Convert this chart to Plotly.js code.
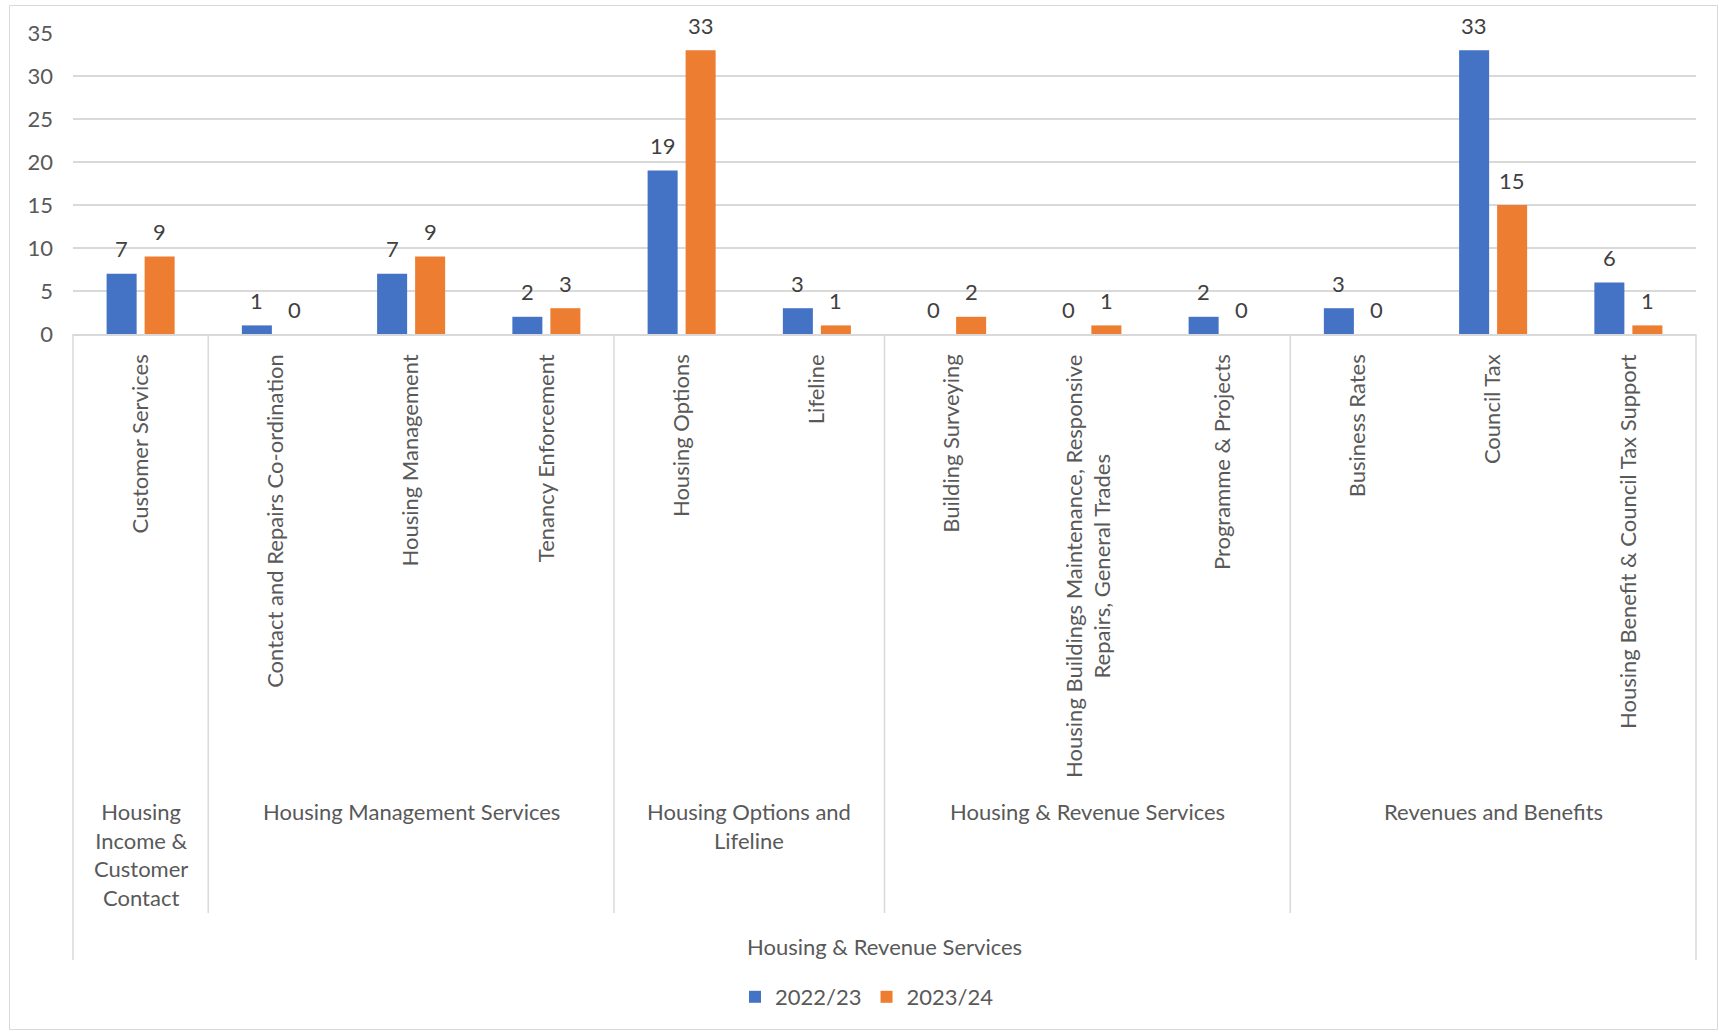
<!DOCTYPE html>
<html>
<head>
<meta charset="utf-8">
<script src="https://cdn.plot.ly/plotly-3.0.1.min.js"></script>
<style>html,body{margin:0;padding:0;background:#fff;}#chart{width:1719px;height:1033px;}</style>
</head>
<body>
<div id="chart"></div>
<script>
// ---- data ----
const categories = [
  "Customer Services",
  "Contact and Repairs Co-ordination",
  "Housing Management",
  "Tenancy Enforcement",
  "Housing Options",
  "Lifeline",
  "Building Surveying",
  "Housing Buildings Maintenance, Responsive Repairs, General Trades",
  "Programme & Projects",
  "Business Rates",
  "Council Tax",
  "Housing Benefit & Council Tax Support"
];
const categoryLabels = [
  "Customer Services",
  "Contact and Repairs Co-ordination",
  "Housing Management",
  "Tenancy Enforcement",
  "Housing Options",
  "Lifeline",
  "Building Surveying",
  "Housing Buildings Maintenance, Responsive<br>Repairs, General Trades",
  "Programme & Projects",
  "Business Rates",
  "Council Tax",
  "Housing Benefit & Council Tax Support"
];
const values2022 = [7, 1, 7, 2, 19, 3, 0, 0, 2, 3, 33, 6];
const values2023 = [9, 0, 9, 3, 33, 1, 2, 1, 0, 0, 15, 1];
const seriesNames = ["2022/23", "2023/24"];
// groups: label, first category index, last category index
const groupLabels = ["Housing<br>Income &<br>Customer<br>Contact", "Housing Management Services", "Housing Options and<br>Lifeline", "Housing & Revenue Services", "Revenues and Benefits"];
const groupStart = [0, 1, 4, 6, 9];
const groupEnd = [0, 3, 5, 8, 11];
const topGroupLabel = "Housing & Revenue Services";

// ---- style ----
const FONT = "Lato, 'Open Sans', sans-serif";
const FS = 22;
const TXT = "#595959";
const GRID = "#d9d9d9";
const colors = ["#4472C4", "#ED7D31"];

// plot area pixel geometry
const W = 1719, H = 1033;
const mL = 73, mR = 23, mT = 33, mB = 699;
const plotH = H - mT - mB;
const py = Y => (H - mB - Y) / plotH;   // pixel y -> paper y
const plotW = W - mL - mR;
const px = X => (X - mL) / plotW;       // pixel x -> paper x
const n = categories.length;
const catPaper = i => (i + 0.5) / n;    // category centre in paper units

const traces = [values2022, values2023].map((vals, k) => ({
  type: "bar",
  name: seriesNames[k],
  x: categories,
  y: vals,
  marker: {color: colors[k]},
  hoverinfo: "x+y+name"
}));

const annotations = [];
// data labels
[values2022, values2023].forEach((vals, k) => {
  vals.forEach((v, i) => {
    annotations.push({
      x: categories[i], y: v, xref: "x", yref: "y",
      text: String(v), showarrow: false,
      xshift: k === 0 ? -19 : 19, yshift: 25,
      yanchor: "middle", xanchor: "center",
      font: {family: FONT, size: FS, color: "#404040"}
    });
  });
});
// multi-line category labels (centred lines) drawn as rotated annotations
const tickText = categoryLabels.map((lab, i) => {
  if (lab.indexOf("<br>") >= 0) {
    annotations.push({
      x: categories[i], y: 0, xref: "x", yref: "paper",
      yshift: -19, text: lab, showarrow: false, textangle: -90,
      xanchor: "center", yanchor: "top", align: "center",
      font: {family: FONT, size: FS, color: TXT}
    });
    return "";
  }
  return lab;
});
// group labels
groupLabels.forEach((g, j) => {
  const c = (groupStart[j] + groupEnd[j]) / 2;
  annotations.push({
    x: catPaper(c), y: py(796), xref: "paper", yref: "paper",
    text: g, showarrow: false, xanchor: "center", yanchor: "top",
    align: "center",
    font: {family: FONT, size: FS, color: TXT}
  });
});
annotations.push({
  x: 0.5, y: py(946), xref: "paper", yref: "paper",
  text: topGroupLabel, showarrow: false, xanchor: "center", yanchor: "middle",
  font: {family: FONT, size: FS, color: TXT}
});

const shapes = [];
// group divider lines
const bounds = [groupStart[0]].concat(groupEnd.map(e => e + 1));
bounds.forEach((b, j) => {
  const outer = (j === 0 || j === bounds.length - 1);
  shapes.push({
    type: "line", xref: "paper", yref: "paper",
    x0: b / n, x1: b / n, y0: 0, y1: py(outer ? 960 : 913),
    line: {color: GRID, width: 1.5}
  });
});
// chart border
shapes.push({
  type: "rect", xref: "paper", yref: "paper",
  x0: px(9.5), x1: px(1717.5), y0: py(1029.5), y1: py(5.5),
  line: {color: GRID, width: 1}, fillcolor: "rgba(0,0,0,0)"
});

const layout = {
  width: W, height: H,
  margin: {l: mL, r: mR, t: mT, b: mB, pad: 0},
  paper_bgcolor: "#fff", plot_bgcolor: "#fff",
  font: {family: FONT, size: FS, color: TXT},
  barmode: "group",
  bargap: 0.438,
  bargroupgap: 0.21,
  showlegend: true,
  legend: {
    orientation: "h", xref: "paper", x: px(867), xanchor: "center",
    yref: "container", y: 1 - 997 / H, yanchor: "middle",
    font: {family: FONT, size: FS, color: TXT},
    bgcolor: "rgba(0,0,0,0)",
    itemwidth: 30, tracegroupgap: 0
  },
  xaxis: {
    type: "category",
    tickmode: "array", tickvals: categories, ticktext: tickText,
    tickangle: -90, ticks: "", ticklabelstandoff: 10,
    showline: true, linecolor: GRID, linewidth: 1.5,
    showgrid: false, zeroline: false,
    tickfont: {family: FONT, size: FS, color: TXT},
    automargin: false
  },
  yaxis: {
    range: [0, 35], dtick: 5, tick0: 0,
    showgrid: true, gridcolor: GRID, gridwidth: 1.5,
    zeroline: false, showline: false, ticks: "",
    ticklabelstandoff: 19,
    tickfont: {family: FONT, size: FS, color: TXT},
    automargin: false
  },
  annotations: annotations,
  shapes: shapes
};

Plotly.newPlot("chart", traces, layout, {displayModeBar: false, staticPlot: true});
</script>
</body>
</html>
